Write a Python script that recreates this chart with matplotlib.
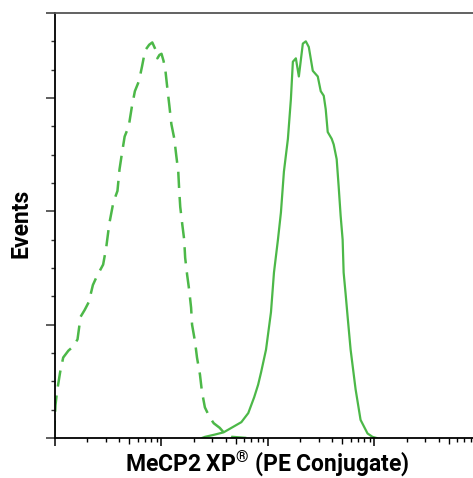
import matplotlib
matplotlib.use("Agg")
import matplotlib.pyplot as plt
from matplotlib.ticker import FixedLocator, LogLocator, NullFormatter

# ===============================
# data (intensity, events)
# ===============================
isotype_x = [98, 101, 104.5, 111.7, 119.4, 133.4, 148.9, 162.7, 173.9, 190, 207.7,
             226.9, 248, 283.1, 302.6, 323.3, 353.3, 385.9, 403.4, 421.7, 450.7,
             492.4, 526.3, 562.3, 614.6, 656.9, 702.1, 766.7, 819.5, 875.8, 915.4,
             956.8, 1000, 1043.5, 1089, 1136.7, 1186.1, 1237.8, 1319.5, 1377,
             1436.9, 1467.8, 1499.5, 1564.7, 1633.1, 1668.2, 1740.6, 1816.8,
             1896.2, 1936.4, 2064.5, 2154.4, 2296.9, 2396.6, 2555.3, 2842.9,
             3095.6, 3518.2, 3913.6, 4544, 6256]
isotype_y = [1, 29, 41, 58, 71, 77, 81, 87, 107, 113, 120, 135, 143, 153, 168, 189,
             208, 218, 237, 249, 266, 275, 292, 306, 315, 328, 342, 347, 349, 343,
             335, 338, 339, 333, 324, 308, 293, 277, 264, 249, 235, 218, 204, 189,
             175, 159, 144, 131, 115, 100, 85, 71, 56, 41, 27, 18, 13, 9, 4, 1, 0]

mecp2_x = [2397, 2555, 3162, 3831, 4544, 5623, 6529, 7420, 8079, 8614, 9583,
           10666, 11379, 12400, 13227, 14108, 15380, 16406, 17123, 18269, 19487,
           21242, 22659, 24163, 26340, 28093, 29330, 31284, 33377, 34840, 36370,
           39640, 41390, 44150, 46080, 48110, 50220, 51320, 53580, 55940, 59670,
           66450, 73990, 86040, 95790, 104400]
mecp2_y = [0, 1, 3, 5, 9, 14, 22, 36, 47, 58, 78, 111, 146, 175, 199, 235, 264,
           299, 332, 335, 319, 348, 350, 345, 324, 321, 319, 306, 302, 290, 270,
           264, 259, 246, 222, 196, 175, 146, 127, 107, 78, 43, 16, 4, 1, 0]

y_major = [0, 100, 200, 300, 375]
y_minor = [25, 50, 75, 125, 150, 175, 225, 250, 275, 325, 350]
x_five = [5e2, 5e3, 5e4, 5e5]

green = "#4cb848"
font = ["Roboto", "DejaVu Sans"]

plt.rcParams["mathtext.fontset"] = "custom"
plt.rcParams["mathtext.rm"] = "Roboto:bold"

fig = plt.figure(figsize=(4.73, 4.78), dpi=100)
ax = fig.add_axes([55 / 473, 40 / 478, 1 - 55 / 473, 425 / 478])

ax.plot(isotype_x, isotype_y, color=green, lw=1.8, dashes=(6.5, 3.6))
ax.plot(mecp2_x, mecp2_y, color=green, lw=1.6)

ax.set_xscale("log")
ax.set_xlim(100, 10 ** 5.925)
ax.set_ylim(0, 375)

# x ticks: decades long, 2..9 short, 5 medium
ax.xaxis.set_major_locator(LogLocator(base=10, numticks=10))
ax.xaxis.set_minor_locator(LogLocator(base=10, subs=(2, 3, 4, 6, 7, 8, 9), numticks=20))
ax.xaxis.set_major_formatter(NullFormatter())
ax.xaxis.set_minor_formatter(NullFormatter())
ax.tick_params(axis="x", which="major", direction="out", length=5.5, width=1.1)
ax.tick_params(axis="x", which="minor", direction="out", length=3, width=1)

sec = ax.secondary_xaxis("bottom")
sec.set_xticks(x_five)
sec.set_xticklabels([])
sec.tick_params(direction="out", length=4, width=1)
sec.spines["bottom"].set_visible(False)

ax.yaxis.set_major_locator(FixedLocator(y_major))
ax.yaxis.set_minor_locator(FixedLocator(y_minor))
ax.yaxis.set_major_formatter(NullFormatter())
ax.tick_params(axis="y", which="major", direction="out", length=6.5, width=1.1, colors="#333333")
ax.tick_params(axis="y", which="minor", direction="out", length=3, width=1, colors="#333333")

for side in ["left", "bottom"]:
    ax.spines[side].set_linewidth(1.3)
    ax.spines[side].set_color("black")
ax.spines["top"].set_linewidth(1.3)
ax.spines["top"].set_color("#555555")
ax.spines["right"].set_visible(False)

fig.text(267.5 / 473, 7 / 478, r"MeCP2 XP$^{\mathrm{®}}$ (PE Conjugate)",
         ha="center", va="baseline", fontsize=16.5, fontweight="bold", family=font)
fig.text(21 / 473, 1 - 223 / 478, "Events", rotation=90, ha="center", va="center",
         fontsize=16.5, fontweight="bold", family=font)

fig.savefig("out.png", dpi=100)
